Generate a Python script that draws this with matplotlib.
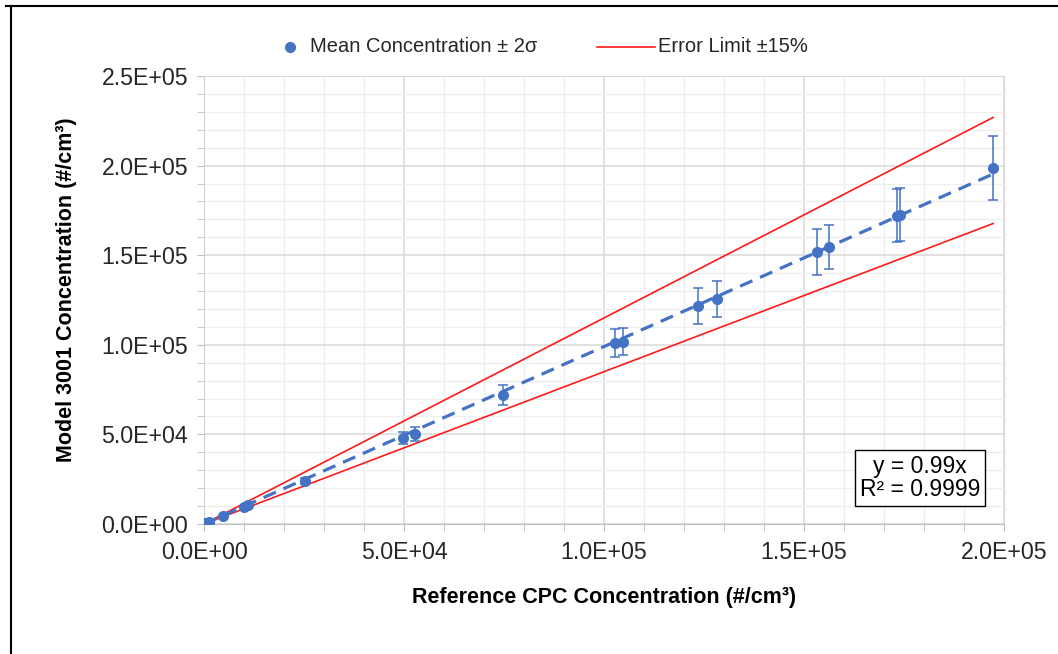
import matplotlib
matplotlib.use("Agg")
import matplotlib.pyplot as plt
from matplotlib.lines import Line2D
from matplotlib.ticker import MultipleLocator, FuncFormatter
import numpy as np

plt.rcParams['font.family'] = ['Liberation Sans', 'DejaVu Sans']

# Data
ref_conc = [300, 1200, 4800, 10000, 11000, 25200, 49700, 52800, 74700,
            102800, 104700, 123500, 128300, 153300, 156300, 173200, 174000, 197300]
mean_conc = [300, 1100, 4200, 9600, 10400, 24000, 48000, 50300, 72100,
             101000, 101700, 121800, 125600, 151800, 154600, 172000, 172500, 198600]
two_sigma = [100, 150, 400, 700, 700, 1500, 3600, 3900, 5600,
             7800, 7500, 10000, 10000, 12800, 12300, 14800, 14800, 17900]
slope = 0.99
error_limit = 0.15
x_ticks = [0, 50000, 100000, 150000, 200000]
y_ticks = [0, 50000, 100000, 150000, 200000, 250000]
legend_labels = ["Mean Concentration \u00b1 2\u03c3", "Error Limit \u00b115%"]
eq_text = "y = 0.99x\nR\u00b2 = 0.9999"
x_label = "Reference CPC Concentration (#/cm\u00b3)"
y_label = "Model 3001 Concentration (#/cm\u00b3)"

blue = "#4472C4"
red = "#FF1A1A"

W, H = 1058, 654
fig = plt.figure(figsize=(W/100, H/100), dpi=100)
ax = fig.add_axes([204/W, 1-524/H, 800/W, 448/H])

x = np.array(ref_conc)
y = np.array(mean_conc)
xmax = x.max()

# error limit lines
xl = np.array([0, xmax])
ax.plot(xl, xl*(1+error_limit), color=red, lw=1.2, zorder=3)
ax.plot(xl, xl*(1-error_limit), color=red, lw=1.2, zorder=3)

# trend line
ax.plot(xl, xl*slope, color=blue, lw=2.3, linestyle=(0, (4.2, 2.6)), zorder=4)

# data with error bars
ax.errorbar(x, y, yerr=two_sigma, fmt='o', color=blue, ms=7, ecolor=blue,
            elinewidth=1.1, capsize=3.5, capthick=1.1, zorder=5)

ax.set_xlim(0, 200000)
ax.set_ylim(0, 250000)
ax.set_xticks(x_ticks)
ax.set_yticks(y_ticks)
ax.xaxis.set_minor_locator(MultipleLocator(10000))
ax.yaxis.set_minor_locator(MultipleLocator(10000))

def sci(v, pos):
    if v == 0:
        return "0.0E+00"
    e = int(np.floor(np.log10(abs(v))))
    m = v / 10**e
    return f"{m:.1f}E+{e:02d}"

ax.xaxis.set_major_formatter(FuncFormatter(sci))
ax.yaxis.set_major_formatter(FuncFormatter(sci))

ax.grid(which='major', color='#d9d9d9', lw=1.1)
ax.grid(which='minor', color='#efefef', lw=1.0)
ax.set_axisbelow(True)

for s in ['top', 'right']:
    ax.spines[s].set_color('#d9d9d9')
ax.spines['left'].set_color('#d0d0d0')
ax.spines['bottom'].set_color('#bfbfbf')

ax.tick_params(which='both', direction='out', length=5, color='#bfbfbf',
               labelsize=16.7, labelcolor='#262626')
ax.tick_params(axis='y', which='both', pad=6.5)
ax.tick_params(axis='x', which='both', pad=7)

ax.set_xlabel(x_label, fontsize=15.5, fontweight='bold', labelpad=16.5)
ax.set_ylabel(y_label, fontsize=15.5, fontweight='bold')
ax.yaxis.set_label_coords(-(204-77)/800, (524-290)/448)

# equation box
ax.text((920-204)/800, (524-478)/448, eq_text, transform=ax.transAxes, fontsize=16.5,
        ha='center', va='center', linespacing=1.0, zorder=6,
        bbox=dict(boxstyle='square,pad=0.22', fc='white', ec='black', lw=1.0))

# legend (drawn in figure pixels)
ly = 1 - 47/H
fig.add_artist(Line2D([290/W], [ly], marker='o', color=blue, ls='none', ms=7,
                      transform=fig.transFigure))
fig.text(310/W, ly, legend_labels[0], fontsize=14.5, ha='left', va='center',
         color='#262626')
fig.add_artist(Line2D([597/W, 655/W], [ly, ly], color=red, lw=1.2,
                      transform=fig.transFigure))
fig.text(658/W, ly, legend_labels[1], fontsize=14.5, ha='left', va='center',
         color='#262626')

# figure border (top & left)
fig.add_artist(Line2D([6/W, 1.0], [1-6/H, 1-6/H], color='black', lw=1.5,
                      transform=fig.transFigure))
fig.add_artist(Line2D([10.5/W, 10.5/W], [0, 1-6/H], color='black', lw=1.5,
                      transform=fig.transFigure))

fig.savefig("out.png", dpi=100)
